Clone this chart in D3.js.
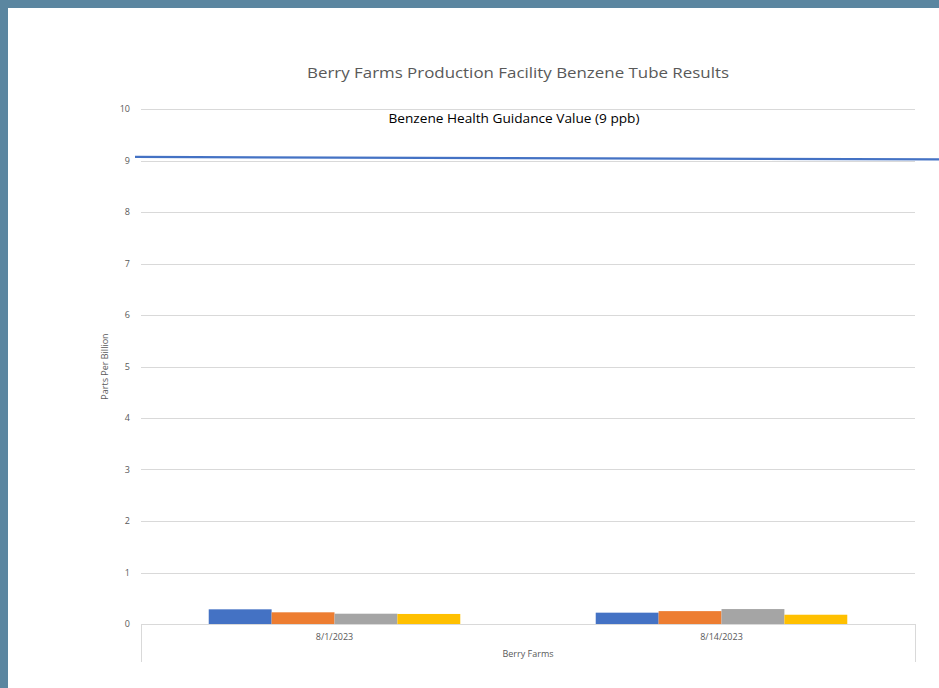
<!DOCTYPE html>
<html><head><meta charset="utf-8">
<script src="https://cdn.jsdelivr.net/npm/d3@7"></script>
<style>html,body{margin:0;padding:0;background:#5b86a0;}svg{display:block;}</style>
</head><body>
<svg id="c" width="939" height="688"></svg>
<script>
const categories = ["8/1/2023", "8/14/2023"];
const series = ["Sample 1", "Sample 2", "Sample 3", "Sample 4"];
const seriesColors = ["#4472c4", "#ed7d31", "#a5a5a5", "#ffc000"];
const values = [
  [0.285, 0.227, 0.20, 0.195],
  [0.22, 0.25, 0.29, 0.18]
];
const yTicks = [0,1,2,3,4,5,6,7,8,9,10];
const guideStart = 9.07, guideEnd = 9.02;
const title = "Berry Farms Production Facility Benzene Tube Results";
const guideLabel = "Benzene Health Guidance Value (9 ppb)";
const xTitle = "Berry Farms";
const yTitle = "Parts Per Billion";

const svg = d3.select("#c");
svg.append("rect").attr("x",8).attr("y",8).attr("width",931).attr("height",680).attr("fill","#fff");

const L=141, R=915, T=109, B=624;
const y = d3.scaleLinear().domain([0,10]).range([B,T]);
const x0 = d3.scaleBand().domain(categories).range([L,R]).padding(0);
const x1 = d3.scaleBand().domain(series).range([x0.bandwidth()*0.175, x0.bandwidth()*0.825]).padding(0);

// gridlines
svg.append("g").selectAll("line").data(yTicks.filter(d=>d>0)).join("line")
  .attr("x1",L).attr("x2",R).attr("y1",d=>Math.round(y(d))+0.5).attr("y2",d=>Math.round(y(d))+0.5)
  .attr("stroke","#d9d9d9").attr("stroke-width",1);

// y labels
const yAxis = d3.axisLeft(y).tickValues(yTicks).tickSize(0).tickPadding(11);
const ga = svg.append("g").attr("transform",`translate(${L},0)`).call(yAxis);
ga.select(".domain").remove();
ga.selectAll("text").attr("fill","#595959").attr("font-family","'Open Sans', sans-serif").attr("font-size","9px");

// bars
const groups = svg.append("g").selectAll("g").data(values).join("g")
  .attr("transform",(d,i)=>`translate(${x0(categories[i])},0)`);
groups.selectAll("rect").data(d=>d.map((v,j)=>({v,s:series[j],c:seriesColors[j]}))).join("rect")
  .attr("x",d=>x1(d.s)).attr("width",x1.bandwidth())
  .attr("y",d=>y(d.v)).attr("height",d=>y(0)-y(d.v)).attr("fill",d=>d.c);

// x axis line and outer ticks
const axG = svg.append("g").attr("stroke","#d9d9d9").attr("stroke-width",1);
axG.append("line").attr("x1",L).attr("x2",R).attr("y1",B+0.5).attr("y2",B+0.5);
axG.selectAll(".t").data([L,R]).join("line").attr("class","t")
  .attr("x1",d=>d+0.5).attr("x2",d=>d+0.5).attr("y1",B).attr("y2",662);

// category labels
svg.append("g").selectAll("text").data(categories).join("text")
  .attr("x",d=>x0(d)+x0.bandwidth()/2).attr("y",640).attr("text-anchor","middle")
  .attr("fill","#595959").attr("font-family","'Open Sans', sans-serif").attr("font-size","9px").text(d=>d);

svg.append("text").attr("x",(L+R)/2).attr("y",657).attr("text-anchor","middle")
  .attr("fill","#595959").attr("font-family","'Open Sans', sans-serif").attr("font-size","9px").text(xTitle);

svg.append("text").attr("transform",`translate(108,${(T+B)/2}) rotate(-90)`).attr("text-anchor","middle")
  .attr("fill","#595959").attr("font-family","'Open Sans', sans-serif").attr("font-size","9px").text(yTitle);

// title
svg.append("text").attr("x",518).attr("y",78).attr("text-anchor","middle")
  .attr("fill","#595959").attr("font-family","'Open Sans', sans-serif").attr("font-size","14.5px")
  .attr("textLength",422).attr("lengthAdjust","spacingAndGlyphs").text(title);

// guidance line
const xg = d3.scaleLinear().domain([0,1]).range([135,939]);
svg.append("line").attr("x1",xg(0)).attr("x2",xg(1)).attr("y1",y(guideStart)).attr("y2",y(guideEnd))
  .attr("stroke","#4472c4").attr("stroke-width",2.2);

svg.append("text").attr("x",514).attr("y",123).attr("text-anchor","middle")
  .attr("fill","#000").attr("font-family","'Open Sans', sans-serif").attr("font-size","12px")
  .attr("textLength",251).attr("lengthAdjust","spacingAndGlyphs").text(guideLabel);
</script>
</body></html>
